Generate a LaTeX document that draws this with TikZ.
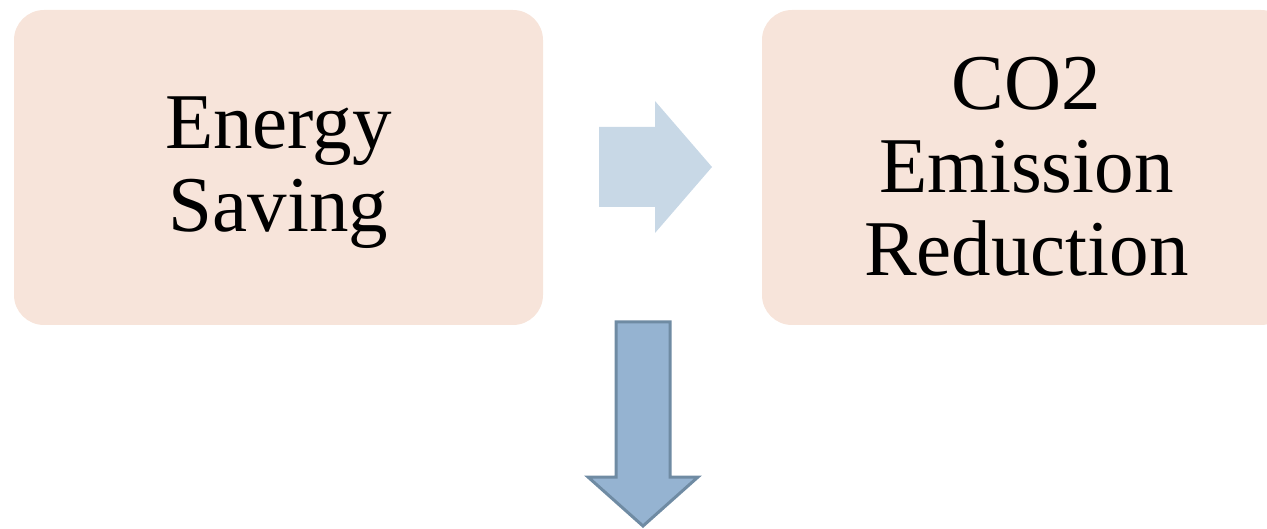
\documentclass[tikz,border=0pt]{standalone}
\usepackage{fontspec}
\setmainfont{Liberation Serif}
\definecolor{boxfill}{HTML}{F7E4DA}
\definecolor{lightarrow}{HTML}{C8D8E6}
\definecolor{darkarrow}{HTML}{95B3D1}
\definecolor{arrowedge}{HTML}{6F8BA3}

\begin{document}
\begin{tikzpicture}[x=1pt, y=-1pt,
  stage/.style={rounded corners=30pt, fill=boxfill, minimum width=529pt, minimum height=315pt},
  stagetext/.style={align=center, inner sep=0pt, font=\fontsize{79}{83}\selectfont}]
\useasboundingbox (0,0) rectangle (1267,529);
\clip (0,0) rectangle (1267,529);
\node (E) at (278.5,167.5) [stage] {};
\node (C) at (1026.5,167.5) [stage] {};
\node (Et) at ([yshift=-5pt]E.center) [stagetext] {Energy\\Saving};
\node (Ct) at ([yshift=1pt]C.center) [stagetext] {CO2\\Emission\\Reduction};

\fill [lightarrow] (599,127) -- (655,127) -- (655,101) -- (712,167) -- (655,233) -- (655,207) -- (599,207) -- cycle;
\draw [line width=3pt, arrowedge, fill=darkarrow] (616,322) -- (670,322) -- (670,477) -- (698,477) -- (643,526) -- (588,477) -- (616,477) -- cycle;
\end{tikzpicture}
\end{document}
